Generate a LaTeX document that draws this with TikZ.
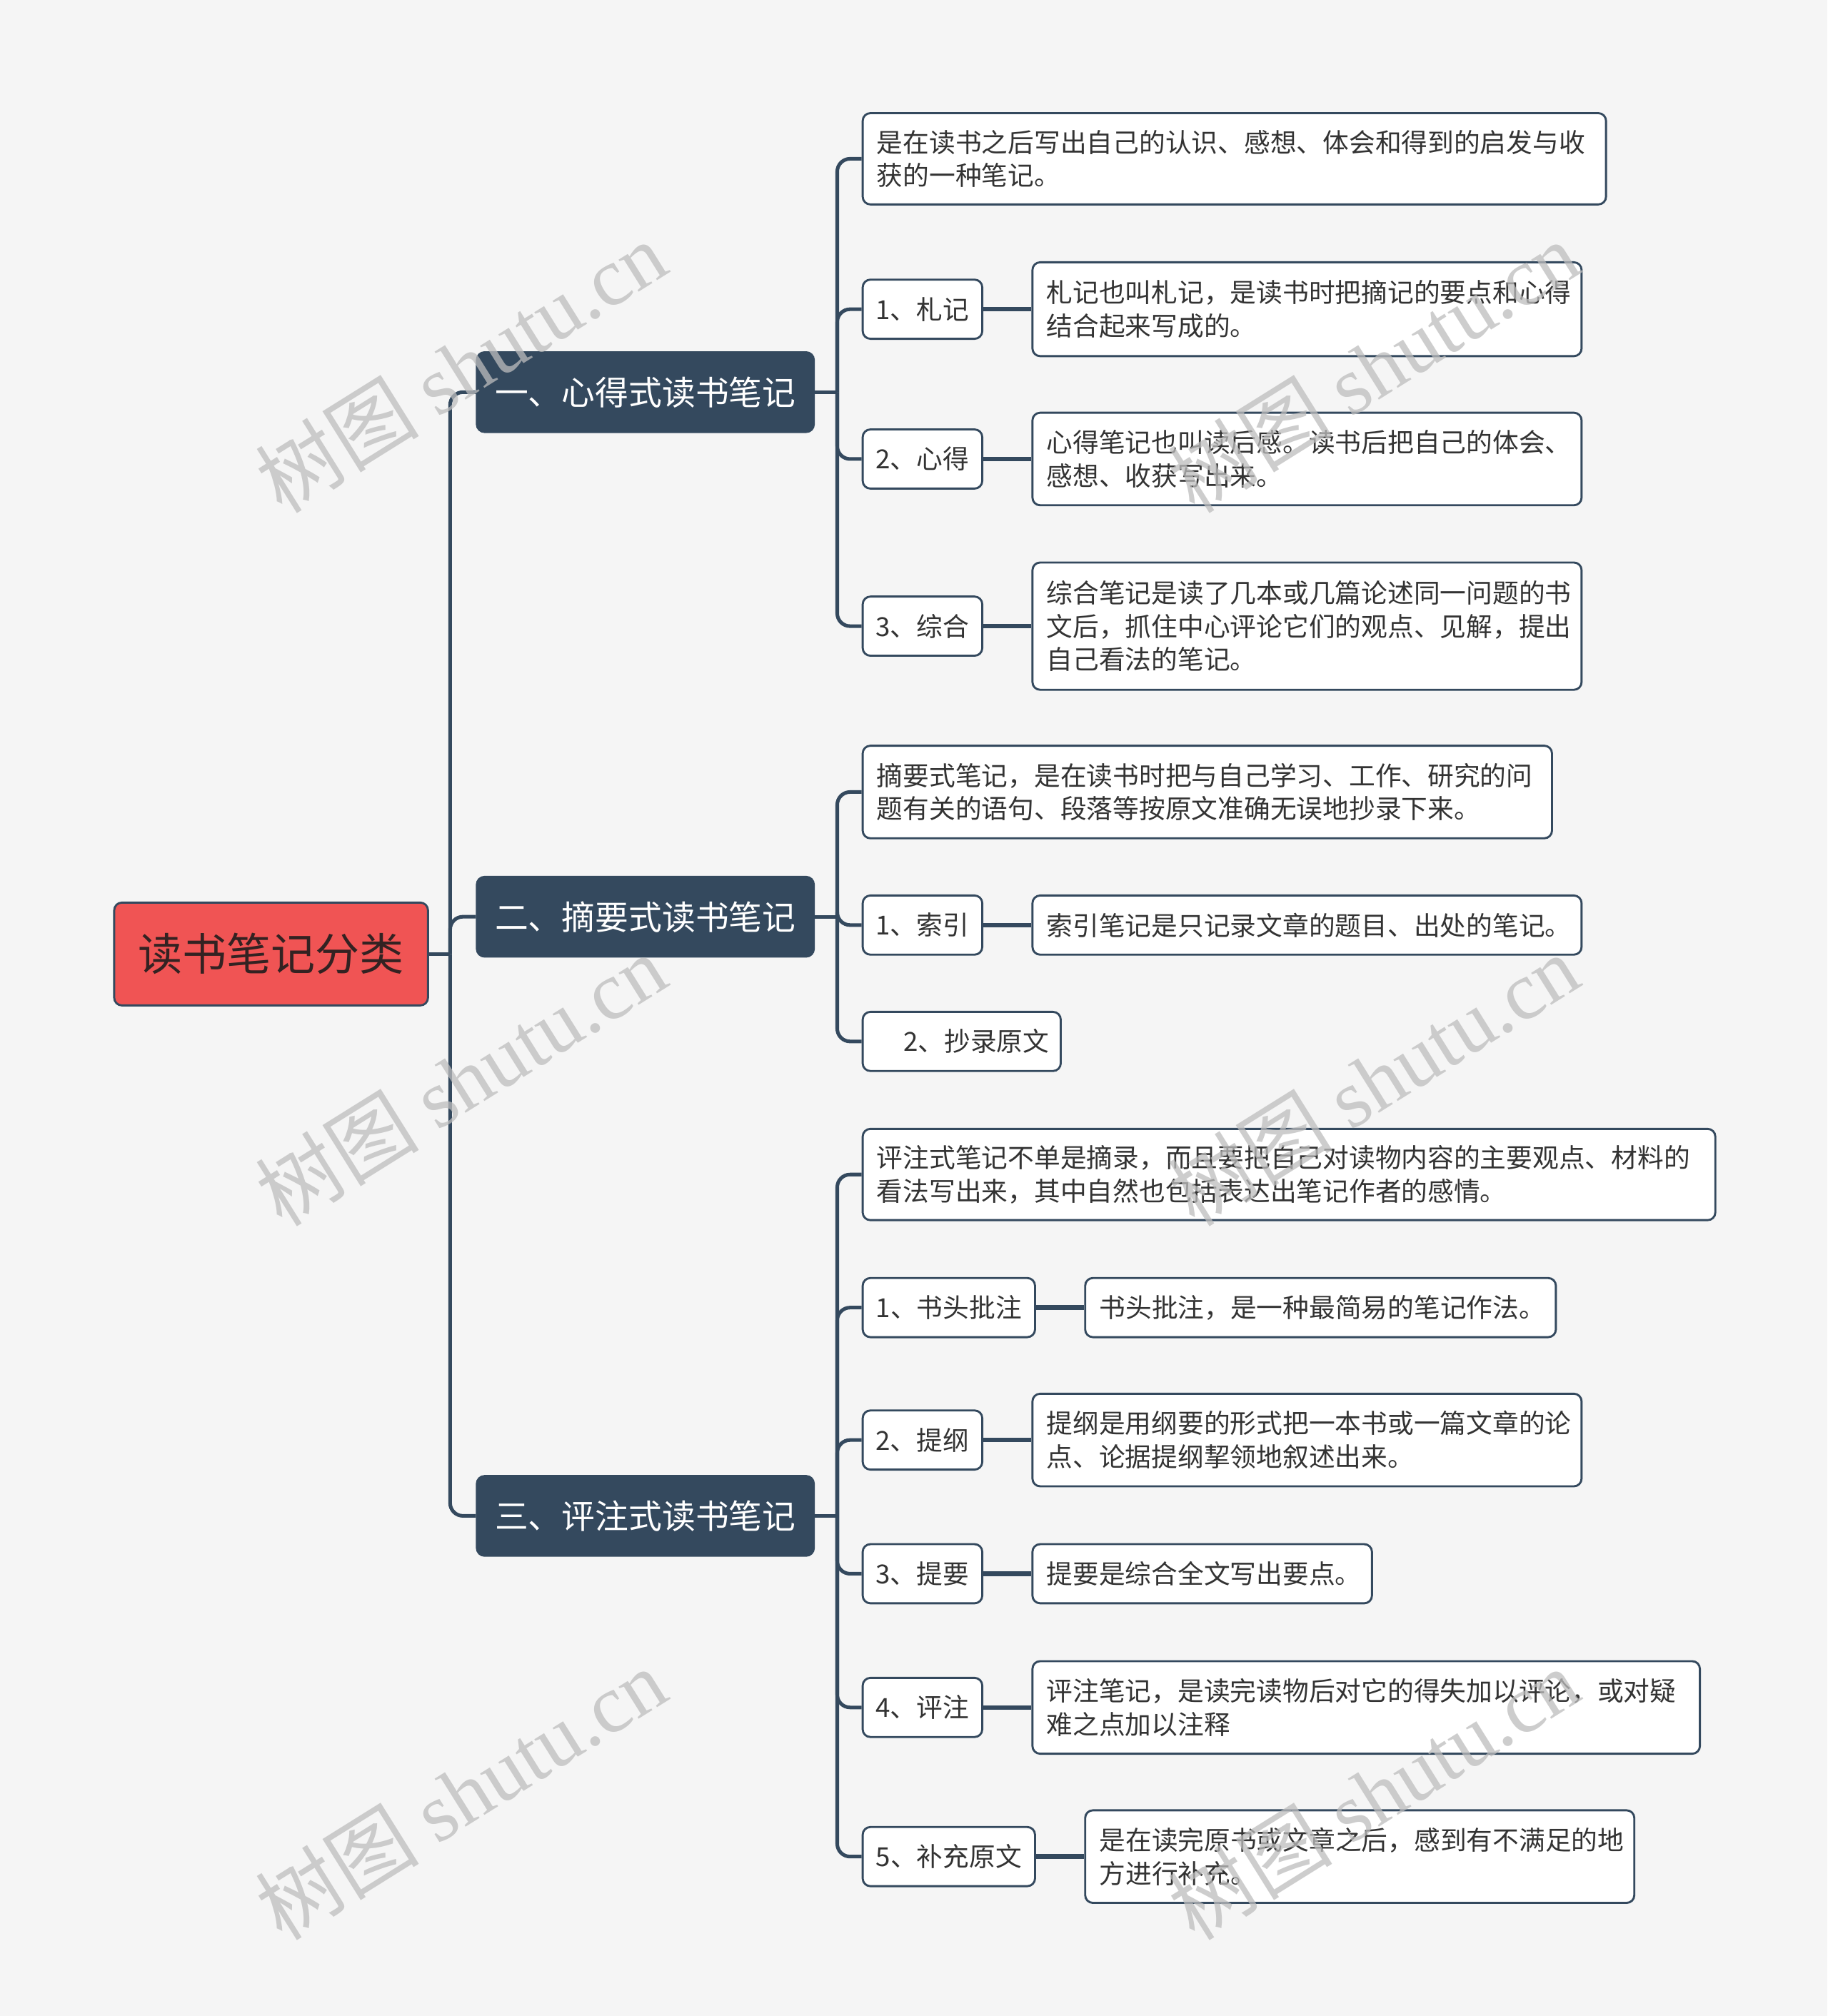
\documentclass[tikz,border=0pt]{standalone}
\usepackage{fontspec}
\setmainfont{Noto Sans CJK SC}
\newfontfamily\wmlatin{Liberation Serif}
\definecolor{bgc}{HTML}{F5F5F5}
\definecolor{navy}{HTML}{34495E}
\definecolor{rootred}{HTML}{F05454}
\definecolor{roottext}{HTML}{332222}
\definecolor{leaftext}{HTML}{333333}
\definecolor{wmc}{HTML}{BDBDBD}
\tikzset{
  box/.style={draw=navy, line width=1.6pt, rounded corners=6pt, anchor=west, inner ysep=0pt},
  rootbox/.style={box, fill=rootred, text=roottext, minimum width=244pt, minimum height=80pt,
    font=\fontsize{34.5}{40}\selectfont},
  branchbox/.style={box, fill=navy, text=white, minimum width=262pt, minimum height=62pt,
    font=\fontsize{26}{30}\selectfont},
  itembox/.style={box, fill=white, text=leaftext, minimum height=46pt, inner xsep=0pt,
    font=\fontsize{20.4}{26}\selectfont},
  leafbox/.style={box, fill=white, text=leaftext, inner xsep=11pt, align=left,
    font=\fontsize{20.4}{26}\selectfont},
  conn/.style={draw=navy, line width=2.8pt, rounded corners=10pt},
  link/.style={draw=navy, line width=3.6pt},
  wm/.style={text=wmc, opacity=0.75, rotate=32, font=\fontsize{64}{70}\selectfont}
}
\begin{document}
\begin{tikzpicture}[x=1pt,y=-1pt]
\useasboundingbox (0,0) rectangle (1421,1568);
\fill[bgc] (0,0) rectangle (1421,1568);

% root and branches
\node[rootbox] (root) at (88,742) {读书笔记分类};
\node[branchbox] (b1) at (370,305) {一、心得式读书笔记};
\node[branchbox] (b2) at (370,713) {二、摘要式读书笔记};
\node[branchbox] (b3) at (370,1179) {三、评注式读书笔记};

% branch 1 children
\node[leafbox, text width=556pt, minimum height=71pt] (c11) at (670,123.5) {是在读书之后写出自己的认识、感想、体会和得到的启发与收\\获的一种笔记。};
\node[itembox, minimum width=93pt] (i11) at (670,240.5) {1、札记};
\node[leafbox, text width=405pt, minimum height=73pt] (d11) at (802,240.5) {札记也叫札记，是读书时把摘记的要点和心得\\结合起来写成的。};
\node[itembox, minimum width=93pt] (i12) at (670,357) {2、心得};
\node[leafbox, text width=405pt, minimum height=72pt] (d12) at (802,357) {心得笔记也叫读后感。读书后把自己的体会、\\感想、收获写出来。};
\node[itembox, minimum width=93pt] (i13) at (670,487) {3、综合};
\node[leafbox, text width=405pt, minimum height=99pt] (d13) at (802,487) {综合笔记是读了几本或几篇论述同一问题的书\\文后，抓住中心评论它们的观点、见解，提出\\自己看法的笔记。};

% branch 2 children
\node[leafbox, text width=514pt, minimum height=72pt] (c21) at (670,616) {摘要式笔记，是在读书时把与自己学习、工作、研究的问\\题有关的语句、段落等按原文准确无误地抄录下来。};
\node[itembox, minimum width=93pt] (i21) at (670,719.5) {1、索引};
\node[leafbox, text width=405pt, minimum height=46pt] (d21) at (802,719.5) {索引笔记是只记录文章的题目、出处的笔记。};
\node[itembox, inner xsep=9pt, text width=136pt, align=right, minimum height=46pt] (i22) at (670,810) {2、抄录原文};

% branch 3 children
\node[leafbox, text width=641pt, minimum height=71pt] (c31) at (670,913.5) {评注式笔记不单是摘录，而且要把自己对读物内容的主要观点、材料的\\看法写出来，其中自然也包括表达出笔记作者的感情。};
\node[itembox, minimum width=134pt] (i31) at (670,1017) {1、书头批注};
\node[leafbox, text width=344pt, minimum height=46pt] (d31) at (843,1017) {书头批注，是一种最简易的笔记作法。};
\node[itembox, minimum width=93pt] (i32) at (670,1120) {2、提纲};
\node[leafbox, text width=405pt, minimum height=72pt] (d32) at (802,1120) {提纲是用纲要的形式把一本书或一篇文章的论\\点、论据提纲挈领地叙述出来。};
\node[itembox, minimum width=93pt] (i33) at (670,1224) {3、提要};
\node[leafbox, text width=242pt, minimum height=46pt] (d33) at (802,1224) {提要是综合全文写出要点。};
\node[itembox, minimum width=93pt] (i34) at (670,1328) {4、评注};
\node[leafbox, text width=497pt, minimum height=72pt] (d34) at (802,1328) {评注笔记，是读完读物后对它的得失加以评论，或对疑\\难之点加以注释};
\node[itembox, minimum width=134pt] (i35) at (670,1444) {5、补充原文};
\node[leafbox, text width=405pt, minimum height=72pt] (d35) at (843,1444) {是在读完原书或文章之后，感到有不满足的地\\方进行补充。};

% connectors: trunk
\coordinate (t) at (350,742);
\draw[link, line width=2.8pt] (root.east) -- (t);
\draw[conn] (t) |- (b1.west);
\draw[conn] (t) |- (b2.west);
\draw[conn] (t) |- (b3.west);

% branch 1
\coordinate (s1) at (651,305);
\draw[link, line width=2.8pt] (b1.east) -- (s1);
\foreach \n in {c11,i11,i12,i13} \draw[conn] (s1) |- (\n.west);
% branch 2
\coordinate (s2) at (651,713);
\draw[link, line width=2.8pt] (b2.east) -- (s2);
\foreach \n in {c21,i21,i22} \draw[conn] (s2) |- (\n.west);
% branch 3
\coordinate (s3) at (651,1179);
\draw[link, line width=2.8pt] (b3.east) -- (s3);
\foreach \n in {c31,i31,i32,i33,i34,i35} \draw[conn] (s3) |- (\n.west);

% item to detail links
\draw[link] (i11.east) -- (d11.west);
\draw[link] (i12.east) -- (d12.west);
\draw[link] (i13.east) -- (d13.west);
\draw[link] (i21.east) -- (d21.west);
\draw[link] (i31.east) -- (d31.west);
\draw[link] (i32.east) -- (d32.west);
\draw[link] (i33.east) -- (d33.west);
\draw[link] (i34.east) -- (d34.west);
\draw[link] (i35.east) -- (d35.west);

% watermarks
\foreach \wx/\wy [count=\k] in {358/285, 358/840, 358/1395, 1068/285, 1068/840, 1068/1395}
  \node[wm] (wm\k) at (\wx,\wy) {树图 {\wmlatin shutu.cn}};
\end{tikzpicture}
\end{document}
